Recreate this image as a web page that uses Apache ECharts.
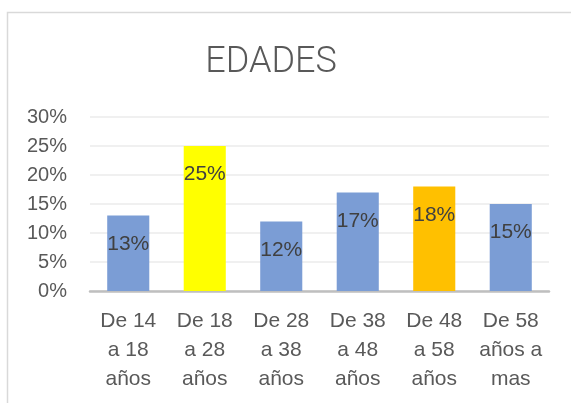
<!DOCTYPE html>
<html>
<head>
<meta charset="utf-8">
<script src="https://cdn.jsdelivr.net/npm/echarts@6/dist/echarts.min.js"></script>
<style>
html,body{margin:0;padding:0;background:#fff;}
#chart{width:571px;height:403px;}
</style>
</head>
<body>
<div id="chart"></div>
<script>
const title = 'EDADES';
const categories = ['De 14\na 18\naños', 'De 18\na 28\naños', 'De 28\na 38\naños', 'De 38\na 48\naños', 'De 48\na 58\naños', 'De 58\naños a\nmas'];
const values = [0.13, 0.25, 0.12, 0.17, 0.18, 0.15];
const barColors = ['#7b9dd5', '#ffff00', '#7b9dd5', '#7b9dd5', '#ffc000', '#7b9dd5'];
const yTicks = [0, 0.05, 0.10, 0.15, 0.20, 0.25, 0.30];

const chart = echarts.init(document.getElementById('chart'), null, {renderer: 'canvas'});
const font = '"Liberation Sans", Arial, sans-serif';
chart.setOption({
  animation: false,
  graphic: [{
    type: 'rect',
    shape: {x: 7.5, y: 12.5, width: 700, height: 500},
    style: {fill: 'none', stroke: '#d9d9d9', lineWidth: 1.5},
    silent: true
  }],
  title: {
    text: title,
    left: 266,
    top: 40,
    textAlign: 'center',
    textStyle: {fontFamily: 'Roboto, sans-serif', fontSize: 36, fontWeight: 300, color: '#595959'}
  },
  grid: {left: 90, right: 22, top: 117, bottom: 112, containLabel: false},
  xAxis: {
    type: 'category',
    data: categories,
    axisTick: {show: false},
    axisLine: {lineStyle: {color: '#bfbfbf', width: 2.5}},
    axisLabel: {fontFamily: font, fontSize: 21, color: '#595959', lineHeight: 29, margin: 16, interval: 0}
  },
  yAxis: {
    type: 'value',
    min: yTicks[0],
    max: yTicks[yTicks.length - 1],
    interval: 0.05,
    axisLine: {show: false},
    axisTick: {show: false},
    splitLine: {lineStyle: {color: '#ebebeb', width: 1.5}},
    axisLabel: {fontFamily: font, fontSize: 20, color: '#595959', margin: 23,
      formatter: v => Math.round(v * 100) + '%'}
  },
  series: [{
    type: 'bar',
    barWidth: '55%',
    data: values.map((v, i) => ({value: v, itemStyle: {color: barColors[i]}})),
    label: {
      show: true,
      position: 'insideTop',
      distance: 18,
      fontFamily: font,
      fontSize: 21,
      color: '#404040',
      formatter: p => Math.round(p.value * 100) + '%'
    }
  }]
});
</script>
</body>
</html>
